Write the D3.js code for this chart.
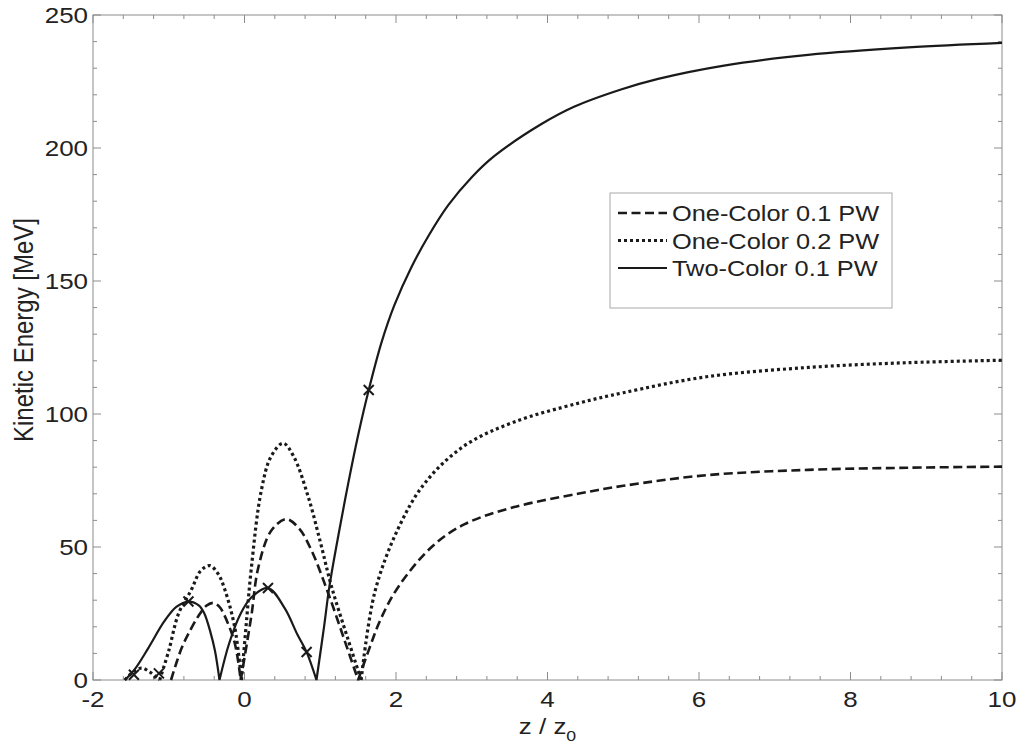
<!DOCTYPE html>
<html>
<head>
<meta charset="utf-8">
<script src="https://cdn.jsdelivr.net/npm/d3@7"></script>
<style>
  body { margin: 0; background: #fff; }
  text { font-family: "Liberation Sans", Arial, Helvetica, sans-serif; fill: #222; }
</style>
</head>
<body>
<div id="application"></div>
<script>
// values: [z/z0, kinetic energy MeV]
var oneColor01 = [
  [-0.97, 0], [-0.83, 12], [-0.71, 19], [-0.61, 24], [-0.5, 28], [-0.41, 29], [-0.33, 27.5], [-0.26, 24], [-0.13, 14], [-0.05, 0],
  [0.09, 24], [0.18, 42], [0.35, 56], [0.55, 60.5], [0.72, 57], [0.88, 49], [1.1, 33], [1.32, 15], [1.5, 0],
  [1.65, 12], [1.8, 23], [2.03, 35], [2.47, 50], [2.9, 58.5], [3.56, 65], [4.4, 70], [5.0, 73], [6.1, 77], [7.44, 79], [8.76, 79.8], [10, 80.2]
];
var oneColor02 = [
  [-1.58, 0], [-1.47, 3], [-1.36, 4.5], [-1.25, 3], [-1.12, 0],
  [-1.0, 11], [-0.87, 25], [-0.7, 34], [-0.58, 41], [-0.46, 43], [-0.35, 40], [-0.26, 34], [-0.13, 20], [-0.04, 0],
  [0.02, 20], [0.09, 42], [0.22, 71], [0.35, 84], [0.51, 89], [0.65, 84], [0.84, 69], [1.0, 52], [1.15, 35], [1.37, 15], [1.54, 0],
  [1.72, 33], [2.03, 57], [2.38, 74], [2.9, 88], [3.56, 97], [4.4, 104], [5.0, 108], [6.1, 114], [7.44, 117.5], [8.76, 119.3], [10, 120.2]
];
var twoColor01 = [
  [-1.58, 0], [-1.45, 4], [-1.27, 12], [-1.06, 22], [-0.9, 27.5], [-0.74, 29.5], [-0.6, 28], [-0.53, 25], [-0.45, 18], [-0.39, 11], [-0.33, 0],
  [-0.2, 14], [-0.05, 25], [0.09, 31], [0.31, 34.6], [0.53, 27], [0.7, 17], [0.82, 10.5], [0.95, 0],
  [1.05, 20], [1.12, 35], [1.25, 56], [1.37, 74], [1.5, 92], [1.64, 109], [1.81, 127], [1.98, 141], [2.2, 155], [2.43, 167], [2.69, 178.5],
  [3.0, 189], [3.3, 197], [3.92, 209], [4.35, 215.5], [4.97, 222], [5.46, 226], [6.33, 231], [7.44, 235], [8.76, 237.8], [10, 239.5]
];
var crossMarks = [[-1.46, 2], [-1.13, 2.5], [-0.74, 29.5], [0.31, 34.6], [0.82, 10.5], [1.64, 109]];

var legendLabels = ["One-Color 0.1 PW", "One-Color 0.2 PW", "Two-Color 0.1 PW"];
var xTicks = [-2, 0, 2, 4, 6, 8, 10];
var yTicks = [0, 50, 100, 150, 200, 250];

var width = 1021, height = 754;
var margin = { top: 15, right: 19, bottom: 74, left: 93 };
var stretch = 1.18; // the scan is wider than tall, so glyphs are stretched a little

var svg = d3.select("#application").append("svg")
  .attr("width", width).attr("height", height);

var x = d3.scaleLinear().domain([-2, 10]).range([margin.left, width - margin.right]);
var y = d3.scaleLinear().domain([0, 250]).range([height - margin.bottom, margin.top]);

var frameColor = "#8c8c8c";

function label(parent, px, py, txt, size, anchor) {
  return parent.append("text")
    .attr("transform", "translate(" + px + "," + py + ") scale(" + stretch + ",1)")
    .attr("text-anchor", anchor)
    .style("font-size", size + "px")
    .text(txt);
}

// minor ticks all round
var xMinor = d3.range(-2, 10.001, 0.4);
var yMinor = d3.range(0, 250.001, 10);
var ticks = svg.append("g").attr("stroke", frameColor).attr("stroke-width", 1);
xMinor.forEach(function(v) {
  var big = xTicks.some(function(t) { return Math.abs(t - v) < 1e-6; });
  var len = big ? 8 : 4;
  ticks.append("line").attr("x1", x(v)).attr("x2", x(v)).attr("y1", y(0)).attr("y2", y(0) - len);
  ticks.append("line").attr("x1", x(v)).attr("x2", x(v)).attr("y1", y(250)).attr("y2", y(250) + len);
});
yMinor.forEach(function(v) {
  var big = v % 50 === 0;
  var len = big ? 8 : 4;
  ticks.append("line").attr("y1", y(v)).attr("y2", y(v)).attr("x1", x(-2)).attr("x2", x(-2) + len);
  ticks.append("line").attr("y1", y(v)).attr("y2", y(v)).attr("x1", x(10)).attr("x2", x(10) - len);
});

svg.append("rect")
  .attr("x", x(-2)).attr("y", y(250))
  .attr("width", x(10) - x(-2)).attr("height", y(0) - y(250))
  .attr("fill", "none").attr("stroke", frameColor).attr("stroke-width", 1);

// tick labels
var xl = svg.append("g");
xTicks.forEach(function(d) { label(xl, x(d), y(0) + 27, d, 22, "middle"); });
var yl = svg.append("g");
yTicks.forEach(function(d) { label(yl, x(-2) - 5, y(d) + 8, d, 22, "end"); });

// axis titles
svg.append("text")
  .attr("transform", "translate(33,330) rotate(-90) scale(1," + stretch + ")")
  .attr("text-anchor", "middle")
  .style("font-size", "24px")
  .text("Kinetic Energy [MeV]");

var xt = svg.append("text")
  .attr("transform", "translate(" + ((x(-2) + x(10)) / 2) + ",734) scale(" + stretch + ",1)")
  .attr("text-anchor", "middle")
  .style("font-size", "22px");
xt.append("tspan").text("z / z");
xt.append("tspan").attr("dy", 7).style("font-size", "15px").text("0");

// curves: split at the zero crossings so the V bottoms stay sharp
var line = d3.line()
  .x(function(d) { return x(d[0]); })
  .y(function(d) { return y(d[1]); })
  .curve(d3.curveCatmullRom.alpha(0.5));

function pathFor(data) {
  var segs = [], cur = [];
  data.forEach(function(d) {
    cur.push(d);
    if (d[1] === 0 && cur.length > 1) {
      segs.push(cur);
      cur = [d];
    }
  });
  if (cur.length > 1) segs.push(cur);
  return segs.map(function(s) { return line(s); }).join("");
}

var styles = [
  { data: oneColor01, dash: "9,4.5", width: 2.6 },
  { data: oneColor02, dash: "3,3", width: 3.2 },
  { data: twoColor01, dash: null, width: 2.2 }
];

styles.forEach(function(s) {
  svg.append("path")
    .attr("d", pathFor(s.data))
    .attr("fill", "none")
    .attr("stroke", "#1a1a1a")
    .attr("stroke-width", s.width)
    .attr("stroke-dasharray", s.dash);
});

// cross markers
svg.append("g").selectAll("path").data(crossMarks).enter().append("path")
  .attr("d", function(d) {
    var cx = x(d[0]), cy = y(d[1]), r = 5;
    return "M" + (cx - r) + "," + (cy - r) + "L" + (cx + r) + "," + (cy + r) +
      "M" + (cx - r) + "," + (cy + r) + "L" + (cx + r) + "," + (cy - r);
  })
  .attr("stroke", "#1a1a1a")
  .attr("stroke-width", 2);

// legend
var lg = svg.append("g").attr("transform", "translate(610,193)");
lg.append("rect")
  .attr("width", 282).attr("height", 115)
  .attr("fill", "#fff").attr("stroke", "#a8a8a8").attr("stroke-width", 1);
legendLabels.forEach(function(txt, i) {
  var ly = 20 + i * 27.5;
  lg.append("line")
    .attr("x1", 8).attr("x2", 57).attr("y1", ly).attr("y2", ly)
    .attr("stroke", "#1a1a1a")
    .attr("stroke-width", styles[i].width)
    .attr("stroke-dasharray", styles[i].dash);
  label(lg, 62, ly + 8, txt, 21.5, "start");
});
</script>
</body>
</html>
